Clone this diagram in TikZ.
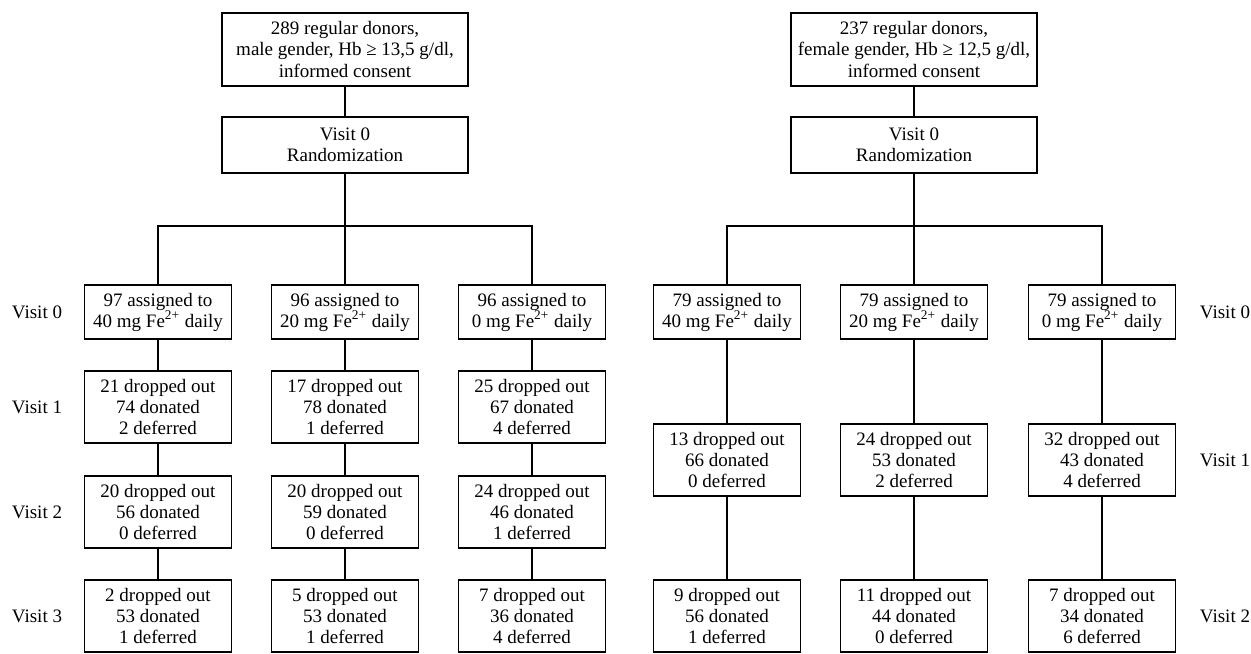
\documentclass[tikz,border=0pt]{standalone}
\usepackage{fontspec}
\setmainfont{Liberation Serif}
\usetikzlibrary{positioning,calc}
\tikzset{
  toprect/.style={rectangle,draw,line width=0.7pt,align=center,inner sep=1pt,minimum width=123pt,minimum height=36.5pt},
  randrect/.style={toprect,minimum height=28pt},
  armrect/.style={rectangle,draw,line width=0.7pt,align=center,inner sep=1pt,minimum width=73.5pt,minimum height=27pt},
  countrect/.style={armrect,minimum height=36pt},
  visitlabel/.style={inner sep=0pt},
  link/.style={line width=0.7pt}
}
\newcommand{\dose}[2]{#1 assigned to\\#2 mg Fe\textsuperscript{2+} daily}
\newcommand{\tally}[3]{#1 dropped out\\#2 donated\\#3 deferred}

\begin{document}
\begin{tikzpicture}[x=0.5pt,y=-0.5pt,font=\fontsize{9.5}{10.5}\selectfont]
\useasboundingbox (0,0) rectangle (1251,653);
% male donors
\node[toprect] (mtop) at (345,49.5) {289 regular donors,\\male gender, Hb ≥ 13,5 g/dl,\\informed consent};
\node[randrect] (mrand) at (345,145) {Visit 0\\Randomization};
\coordinate (mfork) at (345,226);
\node[armrect] (ma0) at (158,312) {\dose{97}{40}};
\node[armrect] (mb0) at (345,312) {\dose{96}{20}};
\node[armrect] (mc0) at (532,312) {\dose{96}{0}};
\node[countrect] (ma1) at (158,407) {\tally{21}{74}{2}};
\node[countrect] (mb1) at (345,407) {\tally{17}{78}{1}};
\node[countrect] (mc1) at (532,407) {\tally{25}{67}{4}};
\node[countrect] (ma2) at (158,512) {\tally{20}{56}{0}};
\node[countrect] (mb2) at (345,512) {\tally{20}{59}{0}};
\node[countrect] (mc2) at (532,512) {\tally{24}{46}{1}};
\node[countrect] (ma3) at (158,616) {\tally{2}{53}{1}};
\node[countrect] (mb3) at (345,616) {\tally{5}{53}{1}};
\node[countrect] (mc3) at (532,616) {\tally{7}{36}{4}};
\node[visitlabel] (mv0) at (37,312) {Visit 0};
\node[visitlabel] (mv1) at (37,407) {Visit 1};
\node[visitlabel] (mv2) at (37,512) {Visit 2};
\node[visitlabel] (mv3) at (37,616) {Visit 3};
\draw[link] (mtop) -- (mrand);
\draw[link] (mrand) -- (mb0);
\draw[link] (ma0.north) |- (mfork) -| (mc0.north);
\draw[link] (ma0) -- (ma1) -- (ma2) -- (ma3);
\draw[link] (mb0) -- (mb1) -- (mb2) -- (mb3);
\draw[link] (mc0) -- (mc1) -- (mc2) -- (mc3);
% female donors
\node[toprect] (ftop) at (914,49.5) {237 regular donors,\\female gender, Hb ≥ 12,5 g/dl,\\informed consent};
\node[randrect] (frand) at (914,145) {Visit 0\\Randomization};
\coordinate (ffork) at (914,226);
\node[armrect] (fa0) at (727,312) {\dose{79}{40}};
\node[armrect] (fb0) at (914,312) {\dose{79}{20}};
\node[armrect] (fc0) at (1102,312) {\dose{79}{0}};
\node[countrect] (fa1) at (727,460) {\tally{13}{66}{0}};
\node[countrect] (fb1) at (914,460) {\tally{24}{53}{2}};
\node[countrect] (fc1) at (1102,460) {\tally{32}{43}{4}};
\node[countrect] (fa2) at (727,616) {\tally{9}{56}{1}};
\node[countrect] (fb2) at (914,616) {\tally{11}{44}{0}};
\node[countrect] (fc2) at (1102,616) {\tally{7}{34}{6}};
\node[visitlabel] (fv0) at (1225,312) {Visit 0};
\node[visitlabel] (fv1) at (1225,460) {Visit 1};
\node[visitlabel] (fv2) at (1225,616) {Visit 2};
\draw[link] (ftop) -- (frand);
\draw[link] (frand) -- (fb0);
\draw[link] (fa0.north) |- (ffork) -| (fc0.north);
\draw[link] (fa0) -- (fa1) -- (fa2);
\draw[link] (fb0) -- (fb1) -- (fb2);
\draw[link] (fc0) -- (fc1) -- (fc2);
\end{tikzpicture}
\end{document}
